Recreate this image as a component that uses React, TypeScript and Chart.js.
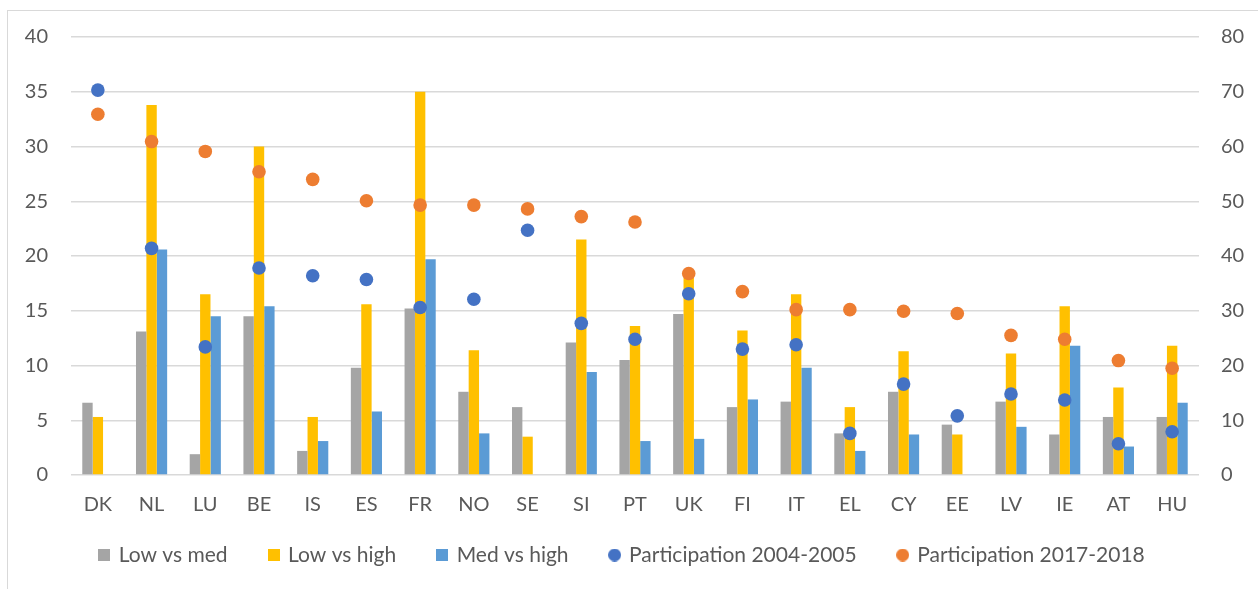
import React, { useEffect, useRef } from "react";
import { Chart, registerables } from "chart.js";

Chart.register(...registerables);

const categories = ["DK", "NL", "LU", "BE", "IS", "ES", "FR", "NO", "SE", "SI", "PT", "UK", "FI", "IT", "EL", "CY", "EE", "LV", "IE", "AT", "HU"];
const lowVsMed = [6.6, 13.1, 1.9, 14.5, 2.2, 9.8, 15.2, 7.6, 6.2, 12.1, 10.5, 14.7, 6.2, 6.7, 3.8, 7.6, 4.6, 6.7, 3.7, 5.3, 5.3];
const lowVsHigh = [5.3, 33.8, 16.5, 30.0, 5.3, 15.6, 35.0, 11.4, 3.5, 21.5, 13.6, 18.4, 13.2, 16.5, 6.2, 11.3, 3.7, 11.1, 15.4, 8.0, 11.8];
const medVsHigh = [null, 20.6, 14.5, 15.4, 3.1, 5.8, 19.7, 3.8, null, 9.4, 3.1, 3.3, 6.9, 9.8, 2.2, 3.7, null, 4.4, 11.8, 2.6, 6.6];
const part0405 = [70.3, 41.4, 23.4, 37.8, 36.4, 35.7, 30.6, 32.1, 44.7, 27.7, 24.8, 33.1, 23.0, 23.8, 7.6, 16.6, 10.8, 14.8, 13.7, 5.7, 7.9];
const part1718 = [65.9, 60.9, 59.1, 55.4, 54.0, 50.1, 49.3, 49.3, 48.6, 47.2, 46.2, 36.8, 33.5, 30.2, 30.2, 29.9, 29.5, 25.5, 24.8, 20.9, 19.5];
const leftTicks = [0, 5, 10, 15, 20, 25, 30, 35, 40];
const rightTicks = [0, 10, 20, 30, 40, 50, 60, 70, 80];

const FONT = "Lato, 'Open Sans', sans-serif";
const TEXT = "#595959";
const GRID = "#d9d9d9";
const COLORS = ["#A5A5A5", "#FFC000", "#5B9BD5", "#4472C4", "#ED7D31"];

function makeMarker(color: string, circle: boolean): HTMLCanvasElement {
  const c = document.createElement("canvas");
  const size = circle ? 13 : 12;
  c.width = size;
  c.height = size;
  const g = c.getContext("2d")!;
  g.fillStyle = color;
  if (circle) {
    g.beginPath();
    g.arc(size / 2, size / 2, size / 2, 0, Math.PI * 2);
    g.fill();
  } else {
    g.fillRect(0, 0, size, size);
  }
  return c;
}

const LEGEND_SHIFT = 17.5;
const legendShiftPlugin = {
  id: "legendShift",
  afterLayout(chart: any) {
    const lg = chart.legend;
    if (lg) {
      lg.top -= LEGEND_SHIFT;
      lg.bottom -= LEGEND_SHIFT;
    }
  },
};

export default function App() {
  const ref = useRef<HTMLCanvasElement | null>(null);
  useEffect(() => {
    if (!ref.current) return;
    const markers = COLORS.map((c, i) => makeMarker(c, i >= 3));
    const barBase = { type: "bar" as const, yAxisID: "y", order: 2, borderWidth: 0 };
    const dotBase = {
      type: "line" as const,
      yAxisID: "y2",
      order: 1,
      showLine: false,
      pointStyle: "circle",
      pointRadius: 6.8,
      pointHoverRadius: 6.8,
      borderWidth: 0,
    };
    const chart = new Chart(ref.current, {
      type: "bar",
      data: {
        labels: categories,
        datasets: [
          { ...barBase, label: "Low vs med", data: lowVsMed, backgroundColor: COLORS[0] },
          { ...barBase, label: "Low vs high", data: lowVsHigh, backgroundColor: COLORS[1] },
          { ...barBase, label: "Med vs high", data: medVsHigh, backgroundColor: COLORS[2] },
          { ...dotBase, label: "Participation 2004-2005", data: part0405, backgroundColor: COLORS[3], borderColor: COLORS[3] },
          { ...dotBase, label: "Participation 2017-2018", data: part1718, backgroundColor: COLORS[4], borderColor: COLORS[4] },
        ] as any,
      },
      plugins: [legendShiftPlugin],
      options: {
        responsive: false,
        animation: false,
        layout: { padding: { top: 37, bottom: -4, left: 0, right: 13 } },
        datasets: { bar: { barPercentage: 1, categoryPercentage: 0.58 } } as any,
        plugins: {
          tooltip: { enabled: false },
          legend: {
            position: "bottom",
            labels: {
              usePointStyle: true,
              boxWidth: 8,
              boxHeight: 12,
              padding: 42,
              color: TEXT,
              font: { family: FONT, size: 21 },
              generateLabels: (ch: any) => {
                const items = Chart.defaults.plugins.legend.labels.generateLabels(ch);
                items.forEach((it: any) => {
                  it.pointStyle = markers[it.datasetIndex];
                });
                return items.sort((a: any, b: any) => a.datasetIndex - b.datasetIndex);
              },
            },
          },
        },
        scales: {
          x: {
            grid: { display: false, drawTicks: false },
            border: { display: false },
            ticks: { color: TEXT, font: { family: FONT, size: 20 }, padding: 18 },
            afterFit: (s: any) => { s.height = 45; },
          },
          y: {
            position: "left",
            min: 0,
            max: 40,
            afterBuildTicks: (s: any) => { s.ticks = leftTicks.map((v) => ({ value: v })); },
            grid: { color: GRID, lineWidth: 1.5, drawTicks: false },
            border: { display: false },
            ticks: { color: TEXT, font: { family: FONT, size: 20 }, padding: 23 },
            afterFit: (s: any) => { s.width = 71; },
          },
          y2: {
            position: "right",
            min: 0,
            max: 80,
            afterBuildTicks: (s: any) => { s.ticks = rightTicks.map((v) => ({ value: v })); },
            grid: { display: false, drawTicks: false },
            border: { display: false },
            ticks: { color: TEXT, font: { family: FONT, size: 20 }, padding: 22 },
            afterFit: (s: any) => { s.width = 46; },
          },
        },
      } as any,
    });
    return () => chart.destroy();
  }, []);

  return (
    <div style={{ position: "fixed", left: 0, top: 0, width: 1258, height: 589, overflow: "hidden", background: "#fff" }}>
      <div style={{ position: "absolute", left: 7, top: 10, width: 1400, height: 800, border: "1px solid #d9d9d9" }} />
      <canvas ref={ref} width={1258} height={589} style={{ position: "absolute", left: 0, top: 0, width: 1258, height: 589 }} />
    </div>
  );
}
